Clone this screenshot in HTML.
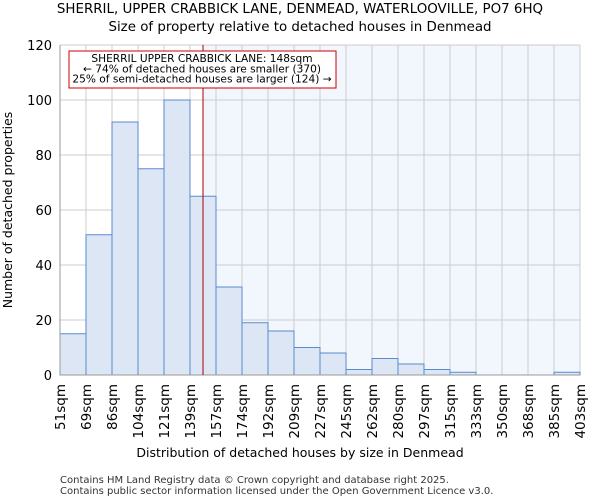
<!DOCTYPE html>
<html><head><meta charset="utf-8"><style>
body{margin:0;background:#fff;width:600px;height:500px;overflow:hidden;font-family:"DejaVu Sans","Liberation Sans",sans-serif}
</style></head><body>
<svg width="600" height="500" xmlns="http://www.w3.org/2000/svg" font-family="DejaVu Sans, Liberation Sans, sans-serif">
<text x="300" y="13" text-anchor="middle" font-size="13.4" fill="#000">SHERRIL, UPPER CRABBICK LANE, DENMEAD, WATERLOOVILLE, PO7 6HQ</text>
<text x="300" y="31" text-anchor="middle" font-size="13.4" fill="#000">Size of property relative to detached houses in Denmead</text>
<g id="plot"></g>
<text x="300" y="457" text-anchor="middle" font-size="12.5">Distribution of detached houses by size in Denmead</text>
<text transform="translate(12,210) rotate(-90)" text-anchor="middle" font-size="12.5">Number of detached properties</text>
<text x="60" y="483" font-size="10" fill="#333">Contains HM Land Registry data © Crown copyright and database right 2025.</text>
<text x="60" y="494" font-size="10" fill="#333">Contains public sector information licensed under the Open Government Licence v3.0.</text>
</svg>
<script>
const edgeLabels=["51sqm","69sqm","86sqm","104sqm","121sqm","139sqm","157sqm","174sqm","192sqm","209sqm","227sqm","245sqm","262sqm","280sqm","297sqm","315sqm","333sqm","350sqm","368sqm","385sqm","403sqm"];
const counts=[15,51,92,75,100,65,32,19,16,10,8,2,6,4,2,1,0,0,0,1];
const yTicks=[0,20,40,60,80,100,120];
const propertyBinPos=5.5;
const L=60,R=580,T=45,B=375,yMax=120;
const NS="http://www.w3.org/2000/svg";
const g=document.getElementById('plot');
const n=counts.length;
const xs=i=>L+(R-L)*i/n;
const ys=v=>B-(B-T)*v/yMax;
function mk(t,a){const e=document.createElementNS(NS,t);for(const k in a)e.setAttribute(k,a[k]);g.appendChild(e);return e;}
const px=xs(propertyBinPos);
let e=mk('rect',{x:px,y:T,width:R-px,height:B-T,fill:'#f2f6fd'});


for(let i=0;i<=n;i++){e=mk('line',{x1:xs(i),x2:xs(i),y1:T,y2:B,stroke:'#ccc','stroke-width':1});

}
yTicks.forEach(v=>{e=mk('line',{x1:L,x2:R,y1:ys(v),y2:ys(v),stroke:'#ccc','stroke-width':1});


e=mk('text',{x:L-8,y:ys(v)+5,'text-anchor':'end','font-size':13});e.textContent=v;

});
counts.forEach((c,i)=>{if(c<=0)return;e=mk('rect',{x:xs(i),y:ys(c),width:xs(i+1)-xs(i),height:B-ys(c),fill:'#dce6f4',stroke:'#5a8ad0','stroke-width':1});

});
edgeLabels.forEach((l,i)=>{e=mk('text',{transform:`translate(${xs(i)+5},384) rotate(-90)`,'text-anchor':'end','font-size':13.5});e.textContent=l;

});
e=mk('line',{x1:L,x2:L,y1:T,y2:B,stroke:'#999'});


e=mk('line',{x1:L,x2:R,y1:B,y2:B,stroke:'#999'});


e=mk('line',{x1:px,x2:px,y1:T,y2:B,stroke:'#aa0000','stroke-width':1});


e=mk('rect',{x:69,y:51,width:267,height:37,fill:'#fff',stroke:'#cc0000','stroke-width':1});


["SHERRIL UPPER CRABBICK LANE: 148sqm","← 74% of detached houses are smaller (370)","25% of semi-detached houses are larger (124) →"].forEach((t,i)=>{
e=mk('text',{x:202,y:62+i*10.3,'text-anchor':'middle','font-size':10.6});e.textContent=t;

});
</script>
</body></html>
